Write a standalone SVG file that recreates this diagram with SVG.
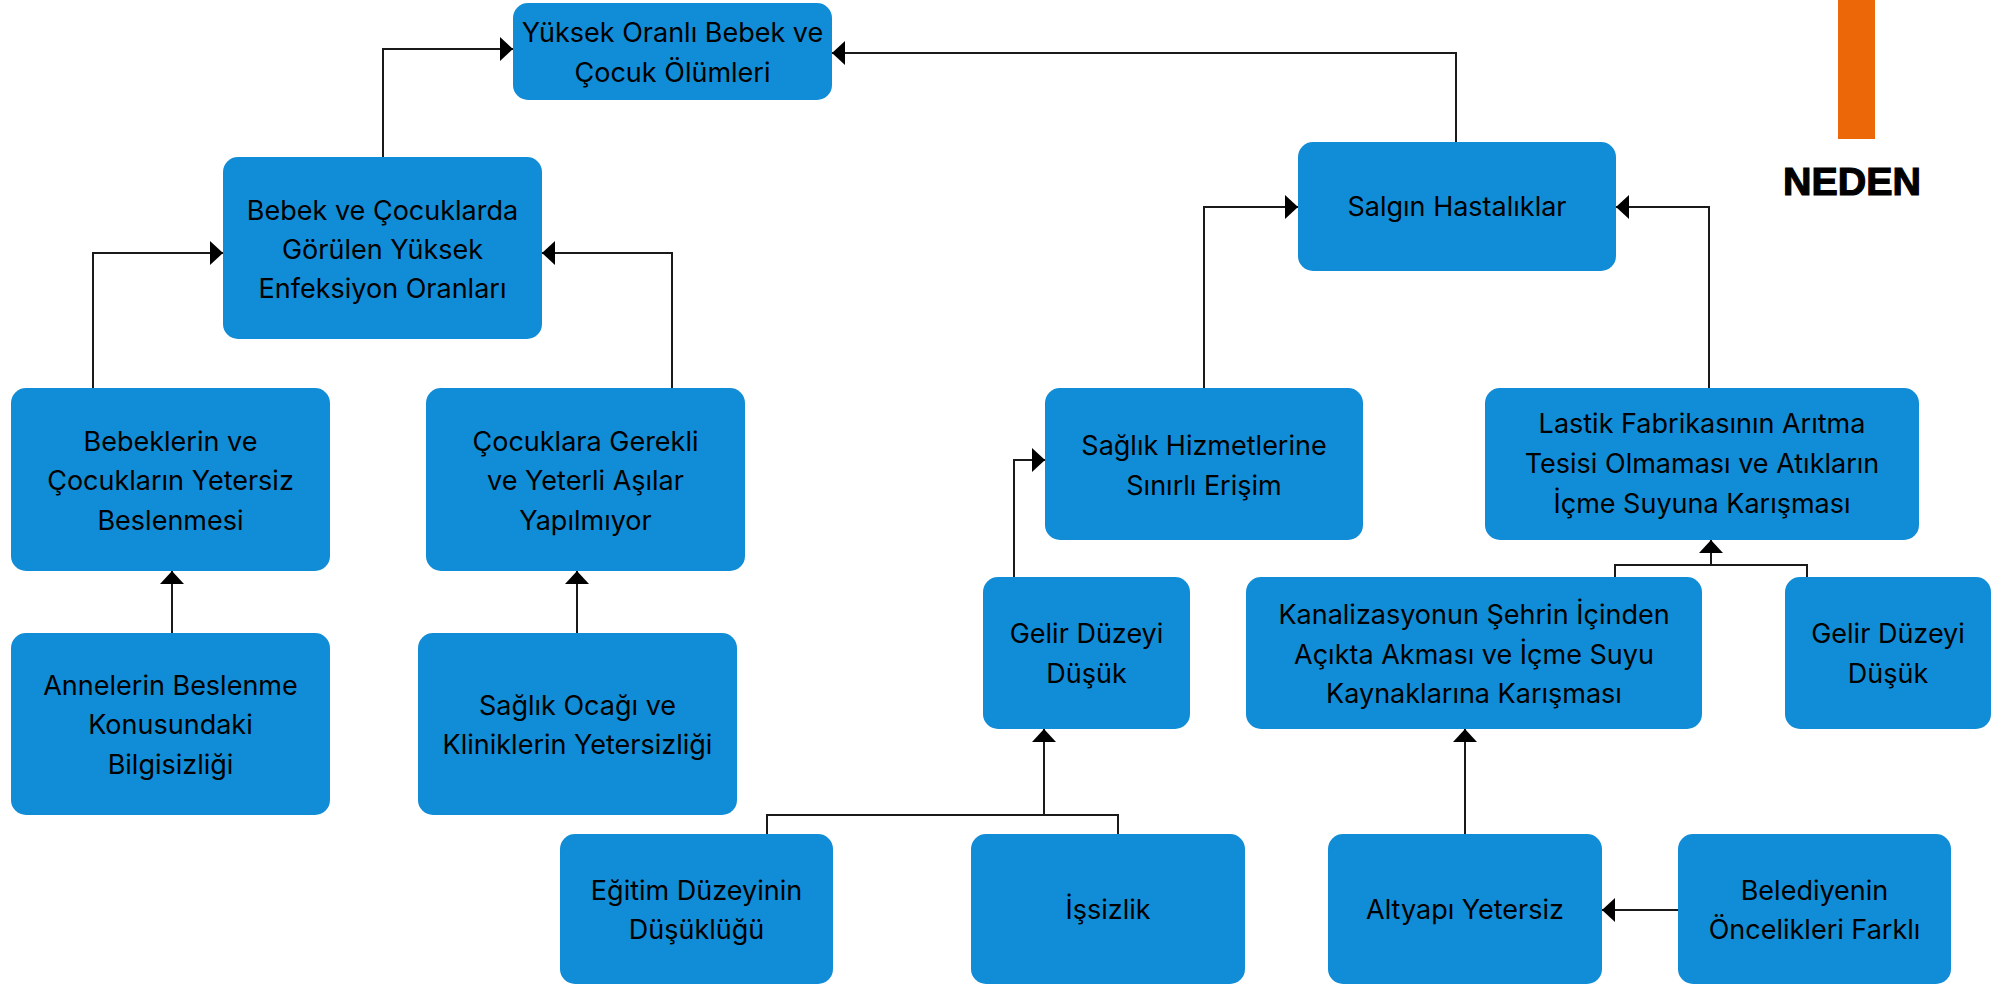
<svg xmlns="http://www.w3.org/2000/svg" width="2004" height="987" viewBox="0 0 2004 987">
<style>
.n{fill:#118cd6}
.t{font-family:Inter,"Open Sans","Liberation Sans",sans-serif;font-size:27px;fill:#000;text-anchor:middle}
.c{fill:none;stroke:#1a1a1a;stroke-width:2}
.a{marker-end:url(#ar)}
</style>
<defs>
<marker id="ar" markerUnits="userSpaceOnUse" markerWidth="13" markerHeight="24" refX="13" refY="12" orient="auto" viewBox="0 0 13 24">
<path d="M0,0 L13,12 L0,24 Z" fill="#000"/>
</marker>
</defs>
<rect x="1838" y="0" width="37" height="139" fill="#ec6707"/>
<text x="1852" y="195" font-family="'Liberation Sans',Arial,sans-serif" font-weight="bold" font-size="39" text-anchor="middle" textLength="138" lengthAdjust="spacingAndGlyphs" fill="#000" stroke="#000" stroke-width="1.2">NEDEN</text>
<g id="connectors">
<path class="c a" d="M383,157 V49 H513"/>
<path class="c a" d="M1456,142 V53 H832"/>
<path class="c a" d="M93,388 V253 H223"/>
<path class="c a" d="M672,388 V253 H542"/>
<path class="c a" d="M172,633 V571"/>
<path class="c a" d="M577,633 V571"/>
<path class="c a" d="M1204,388 V207 H1298"/>
<path class="c a" d="M1709,388 V207 H1616"/>
<path class="c a" d="M1014,577 V460 H1045"/>
<path class="c" d="M1615,577 V565 H1807 V577"/>
<path class="c a" d="M1711,565 V540"/>
<path class="c" d="M767,834 V815 H1118 V834"/>
<path class="c a" d="M1044,815 V729"/>
<path class="c a" d="M1465,834 V729"/>
<path class="c a" d="M1678,910 H1602"/>
</g>
<g id="n1"><rect class="n" x="513" y="3" width="319" height="97" rx="15"/><text class="t" x="672.5" y="42">Yüksek Oranlı Bebek ve</text><text class="t" x="672.5" y="82">Çocuk Ölümleri</text></g>
<g id="n2"><rect class="n" x="223" y="157" width="319" height="182" rx="15"/><text class="t" x="382.5" y="220">Bebek ve Çocuklarda</text><text class="t" x="382.5" y="259">Görülen Yüksek</text><text class="t" x="382.5" y="298">Enfeksiyon Oranları</text></g>
<g id="n3"><rect class="n" x="11" y="388" width="319" height="183" rx="15"/><text class="t" x="170.5" y="451">Bebeklerin ve</text><text class="t" x="170.5" y="490">Çocukların Yetersiz</text><text class="t" x="170.5" y="530">Beslenmesi</text></g>
<g id="n4"><rect class="n" x="426" y="388" width="319" height="183" rx="15"/><text class="t" x="585.5" y="451">Çocuklara Gerekli</text><text class="t" x="585.5" y="490">ve Yeterli Aşılar</text><text class="t" x="585.5" y="530">Yapılmıyor</text></g>
<g id="n5"><rect class="n" x="11" y="633" width="319" height="182" rx="15"/><text class="t" x="170.5" y="695">Annelerin Beslenme</text><text class="t" x="170.5" y="734">Konusundaki</text><text class="t" x="170.5" y="774">Bilgisizliği</text></g>
<g id="n6"><rect class="n" x="418" y="633" width="319" height="182" rx="15"/><text class="t" x="577.5" y="715">Sağlık Ocağı ve</text><text class="t" x="577.5" y="754">Kliniklerin Yetersizliği</text></g>
<g id="n7"><rect class="n" x="560" y="834" width="273" height="150" rx="15"/><text class="t" x="696.5" y="900">Eğitim Düzeyinin</text><text class="t" x="696.5" y="939">Düşüklüğü</text></g>
<g id="n8"><rect class="n" x="971" y="834" width="274" height="150" rx="15"/><text class="t" x="1108" y="919">İşsizlik</text></g>
<g id="n9"><rect class="n" x="983" y="577" width="207" height="152" rx="15"/><text class="t" x="1086.5" y="643">Gelir Düzeyi</text><text class="t" x="1086.5" y="683">Düşük</text></g>
<g id="n10"><rect class="n" x="1045" y="388" width="318" height="152" rx="15"/><text class="t" x="1204" y="455">Sağlık Hizmetlerine</text><text class="t" x="1204" y="495">Sınırlı Erişim</text></g>
<g id="n11"><rect class="n" x="1298" y="142" width="318" height="129" rx="15"/><text class="t" x="1457" y="216">Salgın Hastalıklar</text></g>
<g id="n12"><rect class="n" x="1485" y="388" width="434" height="152" rx="15"/><text class="t" x="1702" y="433">Lastik Fabrikasının Arıtma</text><text class="t" x="1702" y="473">Tesisi Olmaması ve Atıkların</text><text class="t" x="1702" y="513">İçme Suyuna Karışması</text></g>
<g id="n13"><rect class="n" x="1246" y="577" width="456" height="152" rx="15"/><text class="t" x="1474" y="624">Kanalizasyonun Şehrin İçinden</text><text class="t" x="1474" y="664">Açıkta Akması ve İçme Suyu</text><text class="t" x="1474" y="703">Kaynaklarına Karışması</text></g>
<g id="n14"><rect class="n" x="1785" y="577" width="206" height="152" rx="15"/><text class="t" x="1888" y="643">Gelir Düzeyi</text><text class="t" x="1888" y="683">Düşük</text></g>
<g id="n15"><rect class="n" x="1328" y="834" width="274" height="150" rx="15"/><text class="t" x="1465" y="919">Altyapı Yetersiz</text></g>
<g id="n16"><rect class="n" x="1678" y="834" width="273" height="150" rx="15"/><text class="t" x="1814.5" y="900">Belediyenin</text><text class="t" x="1814.5" y="939">Öncelikleri Farklı</text></g>
</svg>
